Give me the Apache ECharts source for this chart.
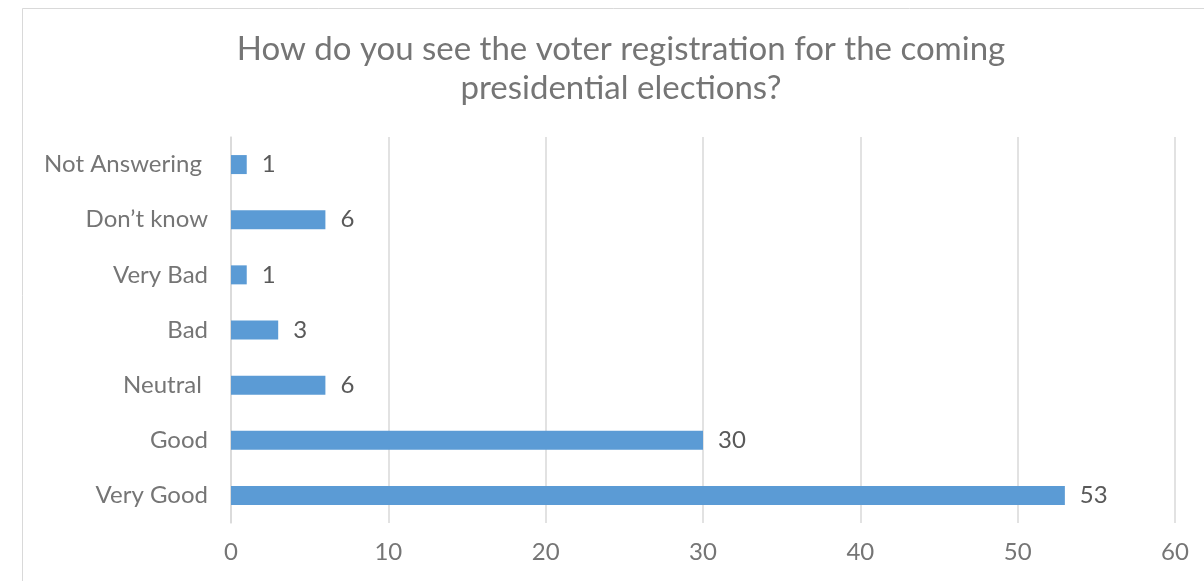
<!DOCTYPE html>
<html>
<head>
<meta charset="utf-8">
<script src="https://cdn.jsdelivr.net/npm/echarts@6/dist/echarts.min.js"></script>
<style>
  html, body { margin: 0; padding: 0; background: #fff; }
  #chart { width: 1204px; height: 581px; }
</style>
</head>
<body>
<div id="chart"></div>
<script>
// categories bottom -> top (echarts category y axis starts at the bottom)
const categories = ['Very Good', 'Good', 'Neutral ', 'Bad', 'Very Bad', 'Don\u2019t know', 'Not Answering ']
const values = [53, 30, 6, 3, 1, 6, 1]
const titleText = 'How do you see the voter registration for the coming\npresidential elections?'

const textColor = '#757575'
const fontFamily = 'Lato, "Noto Sans", sans-serif'

const chart = echarts.init(document.getElementById('chart'))
chart.setOption({
  backgroundColor: '#fff',
  animation: false,
  graphic: [
    {
      type: 'rect',
      shape: { x: 22.5, y: 8.5, width: 1300, height: 700 },
      style: { fill: 'none', stroke: '#d9d9d9', lineWidth: 1 },
      silent: true
    }
  ],
  title: {
    text: titleText,
    left: 616,
    top: 25,
    textAlign: 'center',
    textStyle: {
      color: textColor,
      fontSize: 33,
      fontWeight: 'normal',
      fontFamily: fontFamily,
      lineHeight: 39
    }
  },
  grid: {
    left: 231,
    right: 29,
    top: 137,
    bottom: 58,
    containLabel: false
  },
  xAxis: {
    type: 'value',
    min: 0,
    max: 60,
    interval: 10,
    axisLine: { show: false },
    axisTick: { show: false },
    splitLine: { lineStyle: { color: '#d9d9d9', width: 1.5 } },
    axisLabel: {
      color: textColor,
      fontSize: 24,
      fontFamily: fontFamily,
      margin: 17
    }
  },
  yAxis: {
    type: 'category',
    data: categories,
    axisLine: { show: true, lineStyle: { color: '#d9d9d9', width: 1.5 } },
    axisTick: { show: false },
    axisLabel: {
      color: textColor,
      fontSize: 24,
      fontFamily: fontFamily,
      margin: 23
    }
  },
  series: [
    {
      type: 'bar',
      data: values,
      barWidth: 19,
      itemStyle: { color: '#5b9bd5' },
      label: {
        show: true,
        position: 'right',
        distance: 15,
        color: '#595959',
        fontSize: 24,
        fontFamily: fontFamily
      }
    }
  ]
})
</script>
</body>
</html>
